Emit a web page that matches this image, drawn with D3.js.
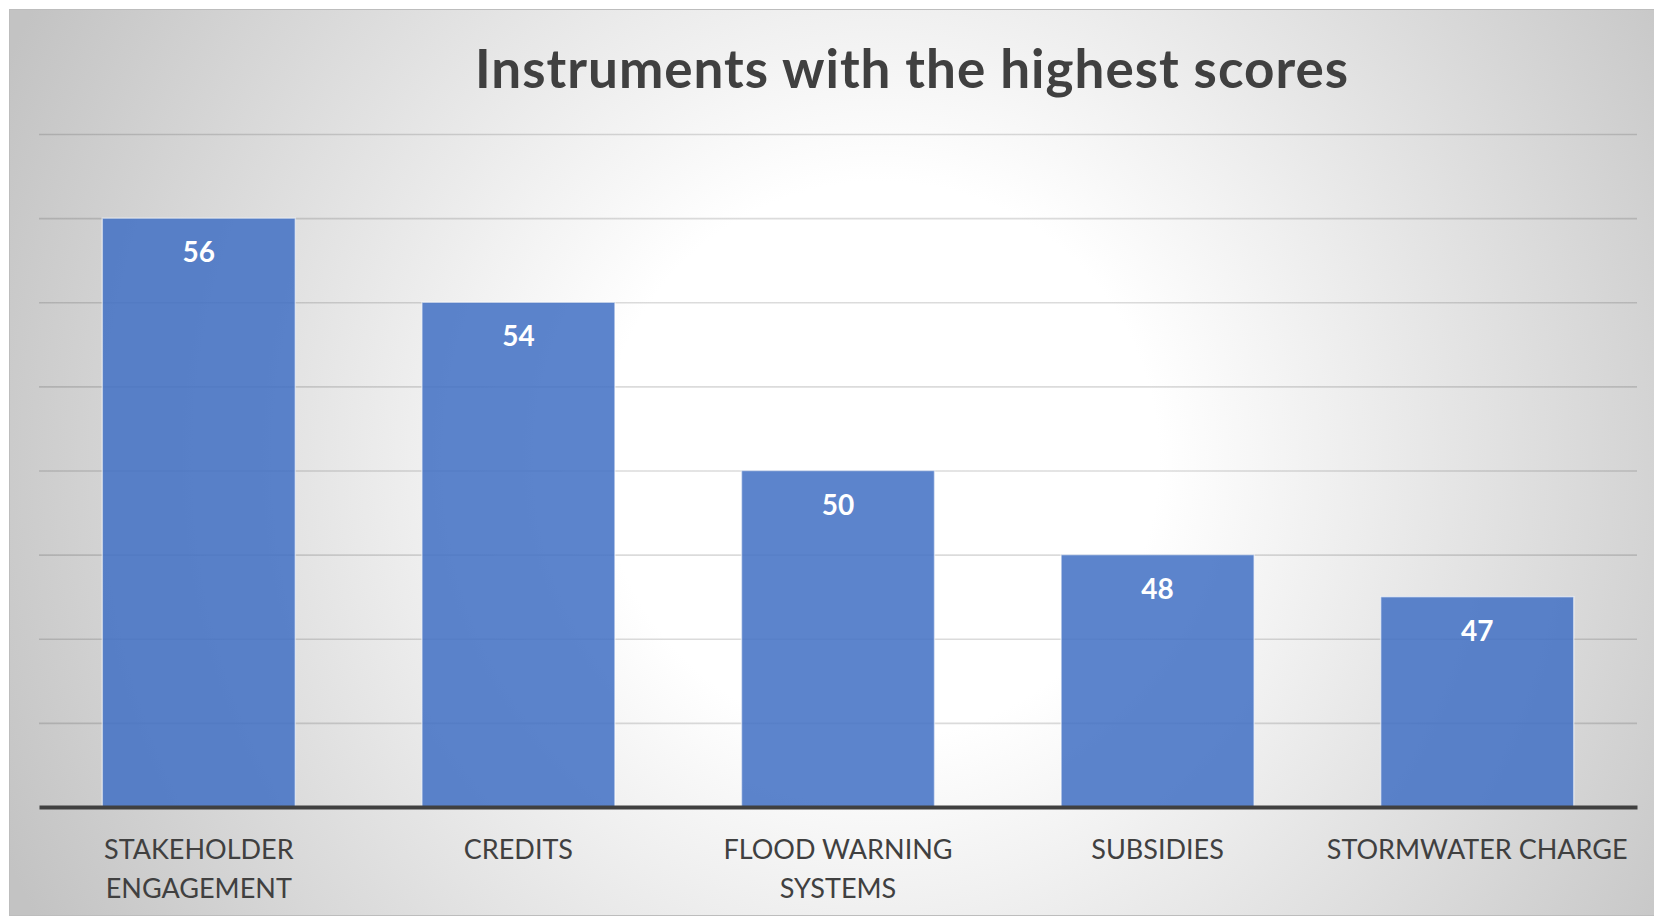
<!DOCTYPE html>
<html>
<head>
<meta charset="utf-8">
<script src="https://cdn.jsdelivr.net/npm/d3@7"></script>
<style>
  html, body { margin: 0; padding: 0; background: #ffffff; }
  svg { display: block; }
</style>
</head>
<body>
<svg id="chart" width="1654" height="917"></svg>
<script>
// Scores per instrument
const categories = ["STAKEHOLDER ENGAGEMENT", "CREDITS", "FLOOD WARNING SYSTEMS", "SUBSIDIES", "STORMWATER CHARGE"];
const scores = [56, 54, 50, 48, 47];
const yTicks = [44, 46, 48, 50, 52, 54, 56, 58];
const yDomain = [42, 58];
const title = "Instruments with the highest scores";

const W = 1654, H = 917;
const svg = d3.select("#chart");
const defs = svg.append("defs");

// Radial background shading of the chart area
const bg = defs.append("radialGradient")
  .attr("id", "bgGrad")
  .attr("gradientUnits", "userSpaceOnUse")
  .attr("cx", 880).attr("cy", 460).attr("r", 960);
bg.append("stop").attr("offset", 0).attr("stop-color", "#ffffff");
bg.append("stop").attr("offset", 0.29).attr("stop-color", "#ffffff");
bg.append("stop").attr("offset", 1).attr("stop-color", "#c3c3c3");

// Gridlines get darker toward the bottom of the plot
const gg = defs.append("linearGradient")
  .attr("id", "gridGrad")
  .attr("gradientUnits", "userSpaceOnUse")
  .attr("x1", 0).attr("x2", 0).attr("y1", 134).attr("y2", 723);
gg.append("stop").attr("offset", 0).attr("stop-color", "#000").attr("stop-opacity", 0.14);
gg.append("stop").attr("offset", 1).attr("stop-color", "#000").attr("stop-opacity", 0.36);

svg.append("rect")
  .attr("x", 9.5).attr("y", 9.5)
  .attr("width", W).attr("height", H - 11)
  .attr("fill", "url(#bgGrad)")
  .attr("stroke", "#bdbdbd").attr("stroke-width", 1);

const x = d3.scaleBand()
  .domain(categories)
  .range([39, 1637])
  .paddingInner(0.396)
  .paddingOuter(0.198);

const y = d3.scaleLinear().domain(yDomain).range([807, 134]);

// Title
svg.append("text")
  .attr("x", 912).attr("y", 88)
  .attr("text-anchor", "middle")
  .attr("font-family", "Lato, 'Open Sans', sans-serif")
  .attr("font-weight", 700)
  .attr("font-size", 53)
  .attr("letter-spacing", 1)
  .attr("fill", "#404040")
  .text(title);

// Horizontal gridlines
const gridAxis = d3.axisLeft(y)
  .tickValues(yTicks)
  .tickSize(-(x.range()[1] - x.range()[0]))
  .tickFormat("");
const grid = svg.append("g")
  .attr("transform", `translate(${x.range()[0]},0)`)
  .call(gridAxis);
grid.select(".domain").remove();
grid.selectAll(".tick line")
  .attr("stroke", "url(#gridGrad)")
  .attr("stroke-width", 1.6);

// Bars
svg.append("g").selectAll("rect")
  .data(categories)
  .join("rect")
  .attr("x", d => x(d))
  .attr("y", (d, i) => y(scores[i]))
  .attr("width", x.bandwidth())
  .attr("height", (d, i) => y(yDomain[0]) - y(scores[i]))
  .attr("fill", "#4472c4")
  .attr("fill-opacity", 0.87)
  .attr("stroke", "#ffffff")
  .attr("stroke-opacity", 0.55)
  .attr("stroke-width", 1.5);

// Value labels inside the bar tops
svg.append("g").selectAll("text")
  .data(categories)
  .join("text")
  .attr("x", d => x(d) + x.bandwidth() / 2)
  .attr("y", (d, i) => y(scores[i]) + 44)
  .attr("text-anchor", "middle")
  .attr("font-family", "Lato, 'Open Sans', sans-serif")
  .attr("font-weight", 700)
  .attr("font-size", 28)
  .attr("fill", "#ffffff")
  .text((d, i) => scores[i]);

// Category axis along the baseline
const xAxis = d3.axisBottom(x).tickSize(0).tickPadding(0);
const ax = svg.append("g")
  .attr("transform", `translate(0,${y(yDomain[0])})`)
  .call(xAxis);
ax.select(".domain")
  .attr("stroke", "#404040")
  .attr("stroke-width", 4);
ax.selectAll(".tick text").remove();

// Wrapped category labels
const labelG = ax.selectAll(".tick").append("text")
  .attr("text-anchor", "middle")
  .attr("font-family", "Lato, 'Open Sans', sans-serif")
  .attr("font-size", 27)
  .attr("fill", "#404040");

labelG.each(function(d) {
  const t = d3.select(this);
  const words = d.split(" ");
  const maxW = x.step();
  let lines = [];
  let line = [];
  const probe = t.append("tspan");
  words.forEach(w => {
    const trial = line.concat([w]).join(" ");
    probe.text(trial);
    if (line.length && probe.node().getComputedTextLength() > maxW) {
      lines.push(line.join(" "));
      line = [w];
    } else {
      line.push(w);
    }
  });
  lines.push(line.join(" "));
  probe.remove();
  lines.forEach((ln, k) => {
    t.append("tspan")
      .attr("x", 0)
      .attr("y", 52 + k * 39)
      .text(ln);
  });
});
</script>
</body>
</html>
